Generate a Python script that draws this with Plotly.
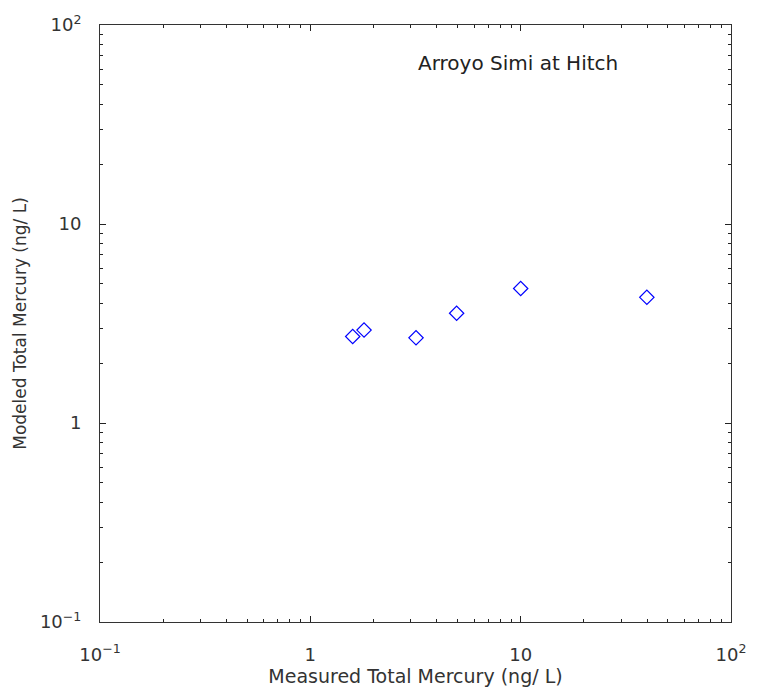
import plotly.graph_objects as go

# Measured vs modeled total mercury, Arroyo Simi at Hitch
measured_ng_l = [1.59, 1.80, 3.18, 4.96, 10.0, 39.8]
modeled_ng_l = [2.72, 2.93, 2.68, 3.56, 4.74, 4.28]

tick_vals = [0.1, 1, 10, 100]
tick_text = ["10<sup>\u22121</sup>", "1", "10", "10<sup>2</sup>"]

font_family = "'DejaVu Sans', sans-serif"

fig = go.Figure()
fig.add_trace(go.Scatter(
    x=measured_ng_l,
    y=modeled_ng_l,
    mode="markers",
    marker=dict(symbol="diamond-open", size=11, color="#0000ff", line=dict(width=1.2, color="#0000ff")),
    showlegend=False,
))

axis_common = dict(
    type="log",
    range=[-1, 2],
    tickvals=tick_vals,
    ticktext=tick_text,
    ticks="inside",
    ticklen=6,
    tickwidth=1,
    tickcolor="#222",
    showline=True,
    linecolor="#333",
    linewidth=1,
    mirror="allticks",
    showgrid=False,
    zeroline=False,
    tickfont=dict(size=18, color="#333", family=font_family),
    minor=dict(ticks="inside", ticklen=3, tickcolor="#222", showgrid=False,
               tickvals=[v * m for v in [0.1, 1, 10] for m in range(2, 10)]),
)

fig.update_layout(
    width=758,
    height=696,
    margin=dict(l=100, r=19, t=20, b=67),
    paper_bgcolor="white",
    plot_bgcolor="white",
    font=dict(family=font_family, color="#333"),
    xaxis=dict(axis_common, ticklabelstandoff=16,
               title=dict(text="Measured Total Mercury (ng/ L)",
                          font=dict(size=19, color="#333"), standoff=6)),
    yaxis=dict(axis_common, ticklabelstandoff=14,
               title=dict(text="Modeled Total Mercury (ng/ L)",
                          font=dict(size=17, color="#333"), standoff=8)),
    annotations=[dict(
        x=0.501, y=0.937, xref="paper", yref="paper", xanchor="left", yanchor="middle",
        text="Arroyo Simi at Hitch", showarrow=False,
        font=dict(size=20, color="#222", family=font_family),
    )],
)

fig.write_html("out.html")
